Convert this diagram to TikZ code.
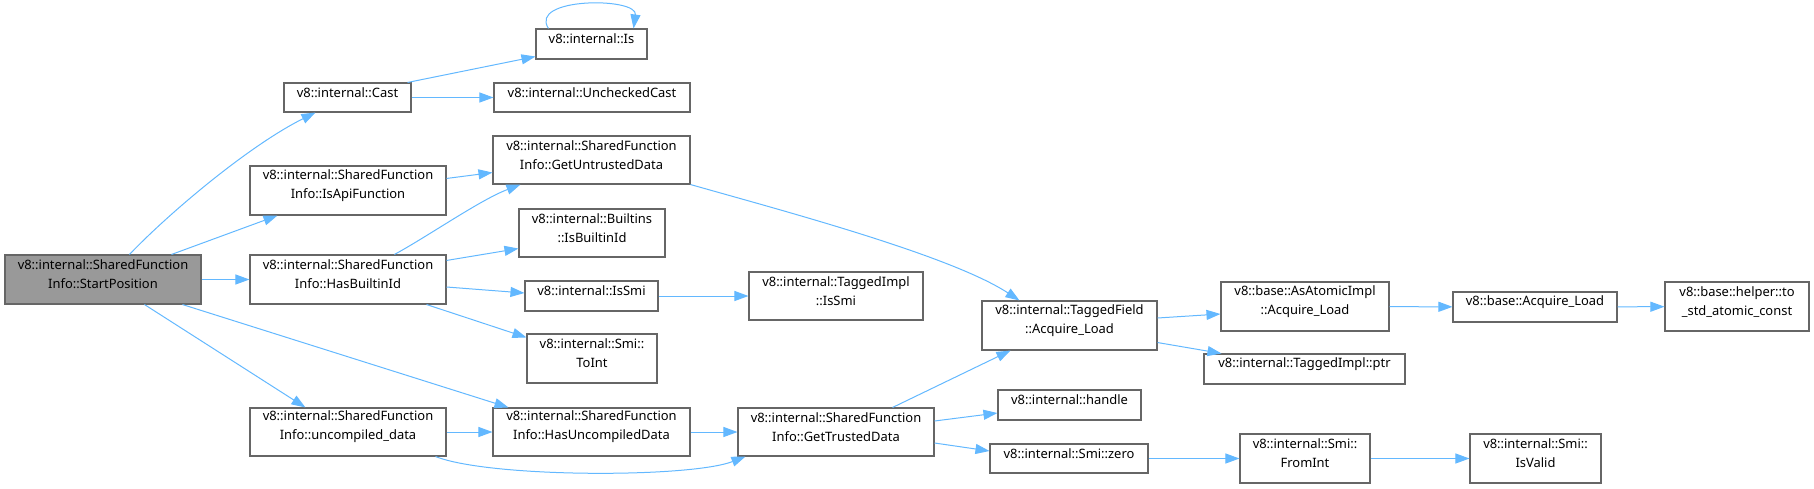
\documentclass[tikz,border=0pt]{standalone}
\usepackage{fontspec}
\setmainfont{Noto Sans}
\usetikzlibrary{arrows.meta,fit,calc}
\definecolor{boxline}{HTML}{666666}
\definecolor{boxfill}{HTML}{999999}
\definecolor{edgecol}{HTML}{63B8FF}
\tikzset{
  box/.style={draw=boxline, line width=0.8pt, fill=white, inner sep=0pt, align=center,
    font=\fontsize{9.7pt}{14.25pt}\selectfont},
  startbox/.style={box, fill=boxfill},
  edge/.style={draw=edgecol, line width=0.75pt, -{Triangle[length=10.5pt,width=7.5pt]}}
}
\begin{document}
\begin{tikzpicture}[x=0.75pt,y=-0.75pt]
\useasboundingbox (0,0) rectangle (1814,489);
% nodes
\node[startbox, fit={(5,255) (201,304)}] (sp) {v8::internal::SharedFunction\\Info::StartPosition};
\node[box, fit={(284,83) (411,112)}] (cast) {v8::internal::Cast};
\node[box, fit={(536,29) (647,59)}] (is) {v8::internal::Is};
\node[box, fit={(494,83) (690,112)}] (uc) {v8::internal::UncheckedCast};
\node[box, fit={(493,136) (690,184)}] (gud) {v8::internal::SharedFunction\\Info::GetUntrustedData};
\node[box, fit={(250,166) (446,215)}] (api) {v8::internal::SharedFunction\\Info::IsApiFunction};
\node[box, fit={(519,209) (665,257)}] (bid) {v8::internal::Builtins\\::IsBuiltinId};
\node[box, fit={(250,255) (446,304)}] (hbi) {v8::internal::SharedFunction\\Info::HasBuiltinId};
\node[box, fit={(525,281) (658,311)}] (ismi) {v8::internal::IsSmi};
\node[box, fit={(527,334) (657,383)}] (toint) {v8::internal::Smi::\\ToInt};
\node[box, fit={(250,408) (446,456)}] (ucd) {v8::internal::SharedFunction\\Info::uncompiled\_data};
\node[box, fit={(493,408) (690,456)}] (hud) {v8::internal::SharedFunction\\Info::HasUncompiledData};
\node[box, fit={(749,272) (923,320)}] (tis) {v8::internal::TaggedImpl\\::IsSmi};
\node[box, fit={(982,301) (1157,350)}] (tf) {v8::internal::TaggedField\\::Acquire\_Load};
\node[box, fit={(738,408) (934,456)}] (gtd) {v8::internal::SharedFunction\\Info::GetTrustedData};
\node[box, fit={(998,390) (1141,420)}] (handle) {v8::internal::handle};
\node[box, fit={(990,444) (1148,473)}] (zero) {v8::internal::Smi::zero};
\node[box, fit={(1221,282) (1389,331)}] (aai) {v8::base::AsAtomicImpl\\::Acquire\_Load};
\node[box, fit={(1453,292) (1617,322)}] (bal) {v8::base::Acquire\_Load};
\node[box, fit={(1665,282) (1809,331)}] (helper) {v8::base::helper::to\\\_std\_atomic\_const};
\node[box, fit={(1204,354) (1405,384)}] (ptr) {v8::internal::TaggedImpl::ptr};
\node[box, fit={(1240,434) (1370,483)}] (fromint) {v8::internal::Smi::\\FromInt};
\node[box, fit={(1470,434) (1601,483)}] (isvalid) {v8::internal::Smi::\\IsValid};
% edges
\draw[edge] ($(sp.north west)+(125,0)$) .. controls (170,212) and (250,145) .. ($(cast.south west)+(32,0)$);
\draw[edge] ($(sp.north west)+(167,0)$) -- ($(api.south west)+(28,0)$);
\draw[edge] (sp) -- (hbi);
\draw[edge] ($(sp.south west)+(178,0)$) -- ($(hud.north west)+(16,0)$);
\draw[edge] ($(sp.south west)+(140,0)$) -- ($(ucd.north west)+(56,0)$);
\draw[edge] ($(cast.north east)+(-4,0)$) -- ($(is.south west)+(0,-3)$);
\draw[edge] (cast) -- (uc);
\draw[edge] ($(is.north west)+(13,0)$) .. controls (528,-3) and (638,-3) .. ($(is.north east)+(-14,0)$);
\draw[edge] ($(api.north east)+(0,13)$) -- ($(gud.south west)+(0,-12)$);
\draw[edge] ($(hbi.north west)+(145,0)$) .. controls (430,235) and (480,200) .. ($(gud.south west)+(28,0)$);
\draw[edge] ($(hbi.north east)+(0,6)$) -- ($(bid.south west)+(0,-9)$);
\draw[edge] ($(hbi.east)+(0,7.5)$) -- ($(ismi.west)+(0,-3)$);
\draw[edge] ($(hbi.south east)+(-20,0)$) -- ($(toint.north west)+(0,4)$);
\draw[edge] (ismi) -- (tis);
\draw[edge] (gud.south east) .. controls (780,210) and (950,255) .. ($(tf.north west)+(38,0)$);
\draw[edge] ($(tf.east)+(0,-7.5)$) -- ($(aai.west)+(0,7.5)$);
\draw[edge] ($(tf.south east)+(0,-8)$) -- ($(ptr.north west)+(18,0)$);
\draw[edge] (aai) -- (bal);
\draw[edge] (bal) -- (helper);
\draw[edge] (ucd) -- (hud);
\draw[edge] ($(ucd.south east)+(-11,0)$) .. controls (490,478) and (690,478) .. ($(gtd.south west)+(8,0)$);
\draw[edge] (hud) -- (gtd);
\draw[edge] ($(gtd.north east)+(-42,0)$) -- ($(tf.south west)+(29,0)$);
\draw[edge] ($(gtd.east)+(0,-11)$) -- ($(handle.west)+(0,8)$);
\draw[edge] ($(gtd.east)+(0,11)$) -- ($(zero.west)+(0,-7.5)$);
\draw[edge] (zero) -- (fromint);
\draw[edge] (fromint) -- (isvalid);
\end{tikzpicture}
\end{document}
